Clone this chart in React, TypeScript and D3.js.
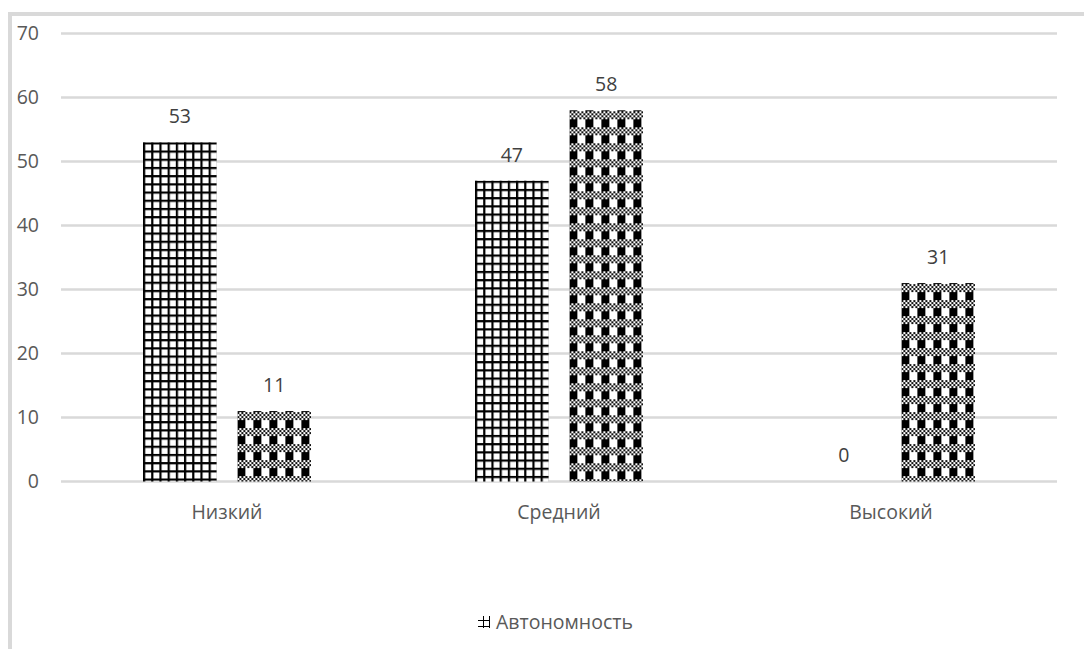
import React, { useEffect, useRef } from "react";
import * as d3 from "d3";

const categories = ["Низкий", "Средний", "Высокий"];
const seriesNames = ["Автономность", "Серия 2"];
const series1 = [53, 47, 0];
const series2 = [11, 58, 31];
const yTicks = [0, 10, 20, 30, 40, 50, 60, 70];

const W = 1084;
const H = 649;

export default function App() {
  const ref = useRef<SVGSVGElement>(null);

  useEffect(() => {
    const svg = d3.select(ref.current);
    svg.selectAll("*").remove();

    const left = 61, right = 1057, top = 33.5, bottom = 481.5;
    const font = "'Open Sans', 'Noto Sans', sans-serif";
    const textColor = "#595959";
    const fs = 19.5;

    const x0 = d3.scaleBand<string>().domain(categories).range([left, right]).paddingInner(0).paddingOuter(0);
    const y = d3.scaleLinear().domain([0, 70]).range([bottom, top]);
    const groupW = 168;
    const x1 = d3.scaleBand<number>().domain([0, 1]).range([0, groupW]).paddingInner(0.22);

    const defs = svg.append("defs");

    svg.append("rect").attr("x", 10).attr("y", 14).attr("width", W + 20).attr("height", H + 20)
      .attr("fill", "white").attr("stroke", "#d9d9d9").attr("stroke-width", 4);

    svg.append("g").selectAll("line").data(yTicks).join("line")
      .attr("x1", left).attr("x2", right)
      .attr("y1", (d) => y(d)).attr("y2", (d) => y(d))
      .attr("stroke", "#d9d9d9").attr("stroke-width", 2.5);

    svg.append("g").selectAll("text").data(yTicks).join("text")
      .attr("x", 39).attr("y", (d) => y(d)).attr("dy", "0.35em")
      .attr("text-anchor", "end").attr("font-family", font).attr("font-size", fs)
      .attr("fill", textColor).text((d) => d);

    svg.append("g").selectAll("text").data(categories).join("text")
      .attr("x", (d) => (x0(d) as number) + x0.bandwidth() / 2).attr("y", 512).attr("dy", "0.35em")
      .attr("text-anchor", "middle").attr("font-family", font).attr("font-size", fs)
      .attr("fill", textColor).text((d) => d);

    const bars: { cat: string; s: number; v: number; i: number }[] = [];
    categories.forEach((c, i) => {
      bars.push({ cat: c, s: 0, v: series1[i], i });
      bars.push({ cat: c, s: 1, v: series2[i], i });
    });

    const barX = (b: { cat: string; s: number }) =>
      (x0(b.cat) as number) + x0.bandwidth() / 2 - groupW / 2 + (x1(b.s) as number);

    bars.forEach((b, k) => {
      const bx = barX(b);
      const by = y(b.v);
      const id = `pat${k}`;
      if (b.s === 0) {
        const p = defs.append("pattern").attr("id", id).attr("patternUnits", "userSpaceOnUse")
          .attr("x", bx).attr("y", by).attr("width", 8.2).attr("height", 8.2);
        p.append("rect").attr("width", 8.2).attr("height", 8.2).attr("fill", "white");
        p.append("rect").attr("x", 0).attr("y", 0).attr("width", 2.2).attr("height", 8.2).attr("fill", "black");
        p.append("rect").attr("x", 0).attr("y", 0).attr("width", 8.2).attr("height", 2.2).attr("fill", "black");
      } else {
        const p = defs.append("pattern").attr("id", id).attr("patternUnits", "userSpaceOnUse")
          .attr("x", bx).attr("y", by + 1).attr("width", 16).attr("height", 16);
        p.append("rect").attr("width", 16).attr("height", 16).attr("fill", "white");
        for (let yy = 0; yy < 8; yy += 2) {
          for (let xx = 0; xx < 16; xx += 2) {
            if (((xx + yy) / 2) % 2 === 0) {
              p.append("rect").attr("x", xx).attr("y", yy).attr("width", 2).attr("height", 2).attr("fill", "#111");
            }
          }
        }
        p.append("rect").attr("x", 0).attr("y", 8).attr("width", 8).attr("height", 8).attr("fill", "black");
      }
      if (b.v > 0) {
        svg.append("rect").attr("x", bx).attr("y", by).attr("width", x1.bandwidth())
          .attr("height", y(0) - by).attr("fill", `url(#${id})`);
      }
      svg.append("text").attr("x", bx + x1.bandwidth() / 2).attr("y", by - 26).attr("dy", "0.35em")
        .attr("text-anchor", "middle").attr("font-family", font).attr("font-size", fs)
        .attr("fill", "#404040").text(b.v);
    });

    const lp = defs.append("pattern").attr("id", "legpat").attr("patternUnits", "userSpaceOnUse")
      .attr("x", 478).attr("y", 615).attr("width", 6).attr("height", 6);
    lp.append("rect").attr("width", 6).attr("height", 6).attr("fill", "white");
    lp.append("rect").attr("x", 5).attr("width", 2).attr("height", 6).attr("fill", "black");
    lp.append("rect").attr("y", 5).attr("width", 6).attr("height", 2).attr("fill", "black");
    svg.append("rect").attr("x", 478).attr("y", 616).attr("width", 12).attr("height", 12).attr("fill", "url(#legpat)");
    svg.append("text").attr("x", 496).attr("y", 622).attr("dy", "0.35em")
      .attr("font-family", font).attr("font-size", fs).attr("fill", textColor).text(seriesNames[0]);
  }, []);

  return (
    <svg ref={ref} width={W} height={H}
      style={{ position: "absolute", left: 0, top: 0, background: "white" }} />
  );
}
